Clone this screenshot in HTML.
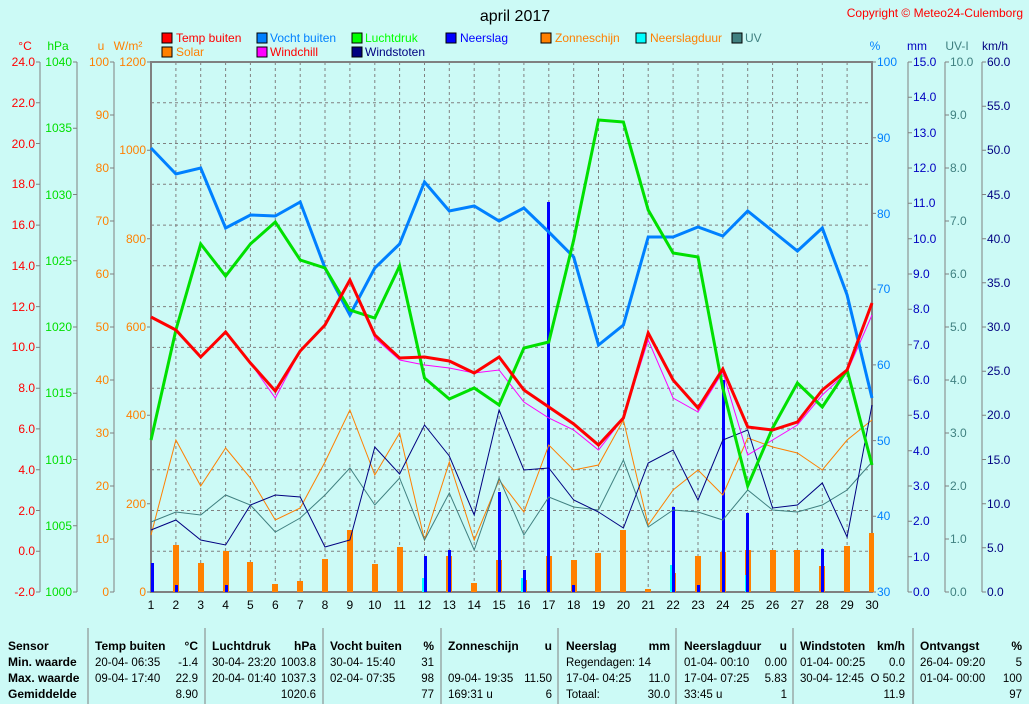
<!DOCTYPE html>
<html><head><meta charset="utf-8"><style>
body{margin:0;background:#ccfaf6;}
svg{display:block;font-family:"Liberation Sans",sans-serif;font-size:12px;}
.b{font-weight:bold}
</style></head><body>
<svg width="1029" height="704" viewBox="0 0 1029 704" xmlns="http://www.w3.org/2000/svg">
<rect width="1029" height="704" fill="#ccfaf6"/>
<text x="515" y="21" font-size="16" text-anchor="middle">april 2017</text>
<text x="1023" y="17" fill="#ff0000" text-anchor="end">Copyright © Meteo24-Culemborg</text>
<g font-size="12">
<rect x="162" y="33" width="10" height="10" fill="#ff0000" stroke="#000"/><text x="176" y="42" fill="#ff0000">Temp buiten</text>
<rect x="162" y="47" width="10" height="10" fill="#ff8000" stroke="#000"/><text x="176" y="56" fill="#ff8000">Solar</text>
<rect x="257" y="33" width="10" height="10" fill="#0080ff" stroke="#000"/><text x="270" y="42" fill="#0080ff">Vocht buiten</text>
<rect x="257" y="47" width="10" height="10" fill="#ff00ff" stroke="#000"/><text x="270" y="56" fill="#ff0000">Windchill</text>
<rect x="352" y="33" width="10" height="10" fill="#00ff00" stroke="#000"/><text x="365" y="42" fill="#00ff00">Luchtdruk</text>
<rect x="352" y="47" width="10" height="10" fill="#000080" stroke="#000"/><text x="365" y="56" fill="#000080">Windstoten</text>
<rect x="446" y="33" width="10" height="10" fill="#0000ff" stroke="#000"/><text x="460" y="42" fill="#0000ff">Neerslag</text>
<rect x="541" y="33" width="10" height="10" fill="#ff8000" stroke="#000"/><text x="555" y="42" fill="#ff8000">Zonneschijn</text>
<rect x="636" y="33" width="10" height="10" fill="#00ffff" stroke="#000"/><text x="650" y="42" fill="#ff8000">Neerslagduur</text>
<rect x="732" y="33" width="10" height="10" fill="#408080" stroke="#000"/><text x="745" y="42" fill="#408080">UV</text>
</g>
<text x="25" y="50" fill="#ff0000" text-anchor="middle">°C</text>
<text x="58" y="50" fill="#00e000" text-anchor="middle">hPa</text>
<text x="101" y="50" fill="#ff8000" text-anchor="middle">u</text>
<text x="128" y="50" fill="#ff8000" text-anchor="middle">W/m²</text>
<text x="875" y="50" fill="#0080ff" text-anchor="middle">%</text>
<text x="917" y="50" fill="#0000c0" text-anchor="middle">mm</text>
<text x="957" y="50" fill="#408080" text-anchor="middle">UV-I</text>
<text x="995" y="50" fill="#000080" text-anchor="middle">km/h</text>
<g stroke="#808080" stroke-dasharray="3,3" stroke-width="1">
<line x1="151" x2="872" y1="102.8" y2="102.8"/><line x1="151" x2="872" y1="143.5" y2="143.5"/><line x1="151" x2="872" y1="184.3" y2="184.3"/><line x1="151" x2="872" y1="225.1" y2="225.1"/><line x1="151" x2="872" y1="265.8" y2="265.8"/><line x1="151" x2="872" y1="306.6" y2="306.6"/><line x1="151" x2="872" y1="347.4" y2="347.4"/><line x1="151" x2="872" y1="388.2" y2="388.2"/><line x1="151" x2="872" y1="428.9" y2="428.9"/><line x1="151" x2="872" y1="469.7" y2="469.7"/><line x1="151" x2="872" y1="510.5" y2="510.5"/><line x1="151" x2="872" y1="551.2" y2="551.2"/>
<line y1="62" y2="592" x1="175.9" x2="175.9"/><line y1="62" y2="592" x1="200.7" x2="200.7"/><line y1="62" y2="592" x1="225.6" x2="225.6"/><line y1="62" y2="592" x1="250.4" x2="250.4"/><line y1="62" y2="592" x1="275.3" x2="275.3"/><line y1="62" y2="592" x1="300.2" x2="300.2"/><line y1="62" y2="592" x1="325" x2="325"/><line y1="62" y2="592" x1="349.9" x2="349.9"/><line y1="62" y2="592" x1="374.8" x2="374.8"/><line y1="62" y2="592" x1="399.6" x2="399.6"/><line y1="62" y2="592" x1="424.5" x2="424.5"/><line y1="62" y2="592" x1="449.3" x2="449.3"/><line y1="62" y2="592" x1="474.2" x2="474.2"/><line y1="62" y2="592" x1="499.1" x2="499.1"/><line y1="62" y2="592" x1="523.9" x2="523.9"/><line y1="62" y2="592" x1="548.8" x2="548.8"/><line y1="62" y2="592" x1="573.7" x2="573.7"/><line y1="62" y2="592" x1="598.5" x2="598.5"/><line y1="62" y2="592" x1="623.4" x2="623.4"/><line y1="62" y2="592" x1="648.2" x2="648.2"/><line y1="62" y2="592" x1="673.1" x2="673.1"/><line y1="62" y2="592" x1="698" x2="698"/><line y1="62" y2="592" x1="722.8" x2="722.8"/><line y1="62" y2="592" x1="747.7" x2="747.7"/><line y1="62" y2="592" x1="772.6" x2="772.6"/><line y1="62" y2="592" x1="797.4" x2="797.4"/><line y1="62" y2="592" x1="822.3" x2="822.3"/><line y1="62" y2="592" x1="847.1" x2="847.1"/>
</g>
<rect x="151" y="62" width="721" height="530" fill="none" stroke="#808080" stroke-width="2"/>
<g stroke="#808080" stroke-width="1">
<line x1="40" y1="62" x2="40" y2="592"/><line x1="77" y1="62" x2="77" y2="592"/><line x1="114" y1="62" x2="114" y2="592"/>
<line x1="908" y1="62" x2="908" y2="592"/><line x1="945" y1="62" x2="945" y2="592"/><line x1="982" y1="62" x2="982" y2="592"/>
</g>
<g stroke="#808080">
<path d="M36 62H40M36 102.8H40M36 143.5H40M36 184.3H40M36 225.1H40M36 265.8H40M36 306.6H40M36 347.4H40M36 388.2H40M36 428.9H40M36 469.7H40M36 510.5H40M36 551.2H40M36 592H40"/>
<path d="M73 62H77M73 128.3H77M73 194.5H77M73 260.8H77M73 327H77M73 393.3H77M73 459.5H77M73 525.8H77M73 592H77"/>
<path d="M110 62H114M110 115H114M110 168H114M110 221H114M110 274H114M110 327H114M110 380H114M110 433H114M110 486H114M110 539H114M110 592H114"/>
<path d="M147 62H151M147 150.3H151M147 238.7H151M147 327H151M147 415.3H151M147 503.7H151M147 592H151"/>
<path d="M872 62H876M872 137.7H876M872 213.4H876M872 289.1H876M872 364.9H876M872 440.6H876M872 516.3H876M872 592H876"/>
<path d="M908 62H912M908 97.3H912M908 132.7H912M908 168H912M908 203.3H912M908 238.7H912M908 274H912M908 309.3H912M908 344.7H912M908 380H912M908 415.3H912M908 450.7H912M908 486H912M908 521.3H912M908 556.7H912M908 592H912"/>
<path d="M945 62H949M945 115H949M945 168H949M945 221H949M945 274H949M945 327H949M945 380H949M945 433H949M945 486H949M945 539H949M945 592H949"/>
<path d="M982 62H986M982 106.2H986M982 150.3H986M982 194.5H986M982 238.7H986M982 282.8H986M982 327H986M982 371.2H986M982 415.3H986M982 459.5H986M982 503.7H986M982 547.8H986M982 592H986"/>
</g>
<g fill="#ff0000" text-anchor="end">
<text x="35" y="66">24.0</text><text x="35" y="107">22.0</text><text x="35" y="148">20.0</text><text x="35" y="188">18.0</text><text x="35" y="229">16.0</text><text x="35" y="270">14.0</text><text x="35" y="311">12.0</text><text x="35" y="351">10.0</text><text x="35" y="392">8.0</text><text x="35" y="433">6.0</text><text x="35" y="474">4.0</text><text x="35" y="515">2.0</text><text x="35" y="555">0.0</text><text x="35" y="596">-2.0</text>
</g>
<g fill="#00e000" text-anchor="end">
<text x="72" y="66">1040</text><text x="72" y="132">1035</text><text x="72" y="199">1030</text><text x="72" y="265">1025</text><text x="72" y="331">1020</text><text x="72" y="397">1015</text><text x="72" y="464">1010</text><text x="72" y="530">1005</text><text x="72" y="596">1000</text>
</g>
<g fill="#ff8000" text-anchor="end">
<text x="109" y="66">100</text><text x="109" y="119">90</text><text x="109" y="172">80</text><text x="109" y="225">70</text><text x="109" y="278">60</text><text x="109" y="331">50</text><text x="109" y="384">40</text><text x="109" y="437">30</text><text x="109" y="490">20</text><text x="109" y="543">10</text><text x="109" y="596">0</text>
<text x="146" y="66">1200</text><text x="146" y="154">1000</text><text x="146" y="243">800</text><text x="146" y="331">600</text><text x="146" y="419">400</text><text x="146" y="508">200</text><text x="146" y="596">0</text>
</g>
<g fill="#0080ff">
<text x="877" y="66">100</text><text x="877" y="142">90</text><text x="877" y="218">80</text><text x="877" y="293">70</text><text x="877" y="369">60</text><text x="877" y="445">50</text><text x="877" y="520">40</text><text x="877" y="596">30</text>
</g>
<g fill="#0000c0">
<text x="913" y="66">15.0</text><text x="913" y="101">14.0</text><text x="913" y="137">13.0</text><text x="913" y="172">12.0</text><text x="913" y="207">11.0</text><text x="913" y="243">10.0</text><text x="913" y="278">9.0</text><text x="913" y="313">8.0</text><text x="913" y="349">7.0</text><text x="913" y="384">6.0</text><text x="913" y="419">5.0</text><text x="913" y="455">4.0</text><text x="913" y="490">3.0</text><text x="913" y="525">2.0</text><text x="913" y="561">1.0</text><text x="913" y="596">0.0</text>
</g>
<g fill="#408080">
<text x="950" y="66">10.0</text><text x="950" y="119">9.0</text><text x="950" y="172">8.0</text><text x="950" y="225">7.0</text><text x="950" y="278">6.0</text><text x="950" y="331">5.0</text><text x="950" y="384">4.0</text><text x="950" y="437">3.0</text><text x="950" y="490">2.0</text><text x="950" y="543">1.0</text><text x="950" y="596">0.0</text>
</g>
<g fill="#000080">
<text x="987" y="66">60.0</text><text x="987" y="110">55.0</text><text x="987" y="154">50.0</text><text x="987" y="199">45.0</text><text x="987" y="243">40.0</text><text x="987" y="287">35.0</text><text x="987" y="331">30.0</text><text x="987" y="375">25.0</text><text x="987" y="419">20.0</text><text x="987" y="464">15.0</text><text x="987" y="508">10.0</text><text x="987" y="552">5.0</text><text x="987" y="596">0.0</text>
</g>
<g text-anchor="middle" fill="#000">
<text x="151" y="609">1</text><text x="175.9" y="609">2</text><text x="200.7" y="609">3</text><text x="225.6" y="609">4</text><text x="250.4" y="609">5</text><text x="275.3" y="609">6</text><text x="300.2" y="609">7</text><text x="325" y="609">8</text><text x="349.9" y="609">9</text><text x="374.8" y="609">10</text><text x="399.6" y="609">11</text><text x="424.5" y="609">12</text><text x="449.3" y="609">13</text><text x="474.2" y="609">14</text><text x="499.1" y="609">15</text><text x="523.9" y="609">16</text><text x="548.8" y="609">17</text><text x="573.7" y="609">18</text><text x="598.5" y="609">19</text><text x="623.4" y="609">20</text><text x="648.2" y="609">21</text><text x="673.1" y="609">22</text><text x="698" y="609">23</text><text x="722.8" y="609">24</text><text x="747.7" y="609">25</text><text x="772.6" y="609">26</text><text x="797.4" y="609">27</text><text x="822.3" y="609">28</text><text x="847.1" y="609">29</text><text x="872" y="609">30</text>
</g>
<g fill="#ff8000">
<rect x="173" y="545" width="6" height="47"/><rect x="198" y="563" width="6" height="29"/><rect x="223" y="551" width="6" height="41"/><rect x="247" y="562" width="6" height="30"/><rect x="272" y="584" width="6" height="8"/><rect x="297" y="581" width="6" height="11"/><rect x="322" y="559" width="6" height="33"/><rect x="347" y="530" width="6" height="62"/><rect x="372" y="564" width="6" height="28"/><rect x="397" y="547" width="6" height="45"/><rect x="446" y="556" width="6" height="36"/><rect x="471" y="583" width="6" height="9"/><rect x="496" y="560" width="6" height="32"/><rect x="521" y="580" width="6" height="12"/><rect x="546" y="556" width="6" height="36"/><rect x="571" y="560" width="6" height="32"/><rect x="595" y="553" width="6" height="39"/><rect x="620" y="530" width="6" height="62"/><rect x="645" y="589" width="6" height="3"/><rect x="670" y="573" width="6" height="19"/><rect x="695" y="556" width="6" height="36"/><rect x="720" y="552" width="6" height="40"/><rect x="745" y="550" width="6" height="42"/><rect x="770" y="550" width="6" height="42"/><rect x="794" y="550" width="6" height="42"/><rect x="819" y="566" width="6" height="26"/><rect x="844" y="546" width="6" height="46"/><rect x="869" y="533" width="5" height="59"/>
</g>
<g fill="#00ffff">
<rect x="422" y="578" width="4" height="14"/><rect x="521" y="578" width="4" height="14"/><rect x="670" y="565" width="4" height="27"/><rect x="745" y="575" width="4" height="17"/>
</g>
<g fill="#0000ff">
<rect x="151" y="563" width="3" height="29"/><rect x="175" y="585" width="3" height="7"/><rect x="225" y="585" width="3" height="7"/><rect x="424" y="556" width="3" height="36"/><rect x="448" y="550" width="3" height="42"/><rect x="498" y="492" width="3" height="100"/><rect x="523" y="570" width="3" height="22"/><rect x="547" y="202" width="3" height="390"/><rect x="572" y="585" width="3" height="7"/><rect x="672" y="507" width="3" height="85"/><rect x="697" y="585" width="3" height="7"/><rect x="722" y="380" width="3" height="212"/><rect x="746" y="513" width="3" height="79"/><rect x="821" y="549" width="3" height="43"/>
</g>
<polyline fill="none" stroke="#ff8000" stroke-width="1" points="151,535 175.9,440 200.7,486 225.6,448 250.4,478 275.3,520 300.2,508 325,462 349.9,410 374.8,475 399.6,433 424.5,540 449.3,462 474.2,540 499.1,480 523.9,512 548.8,445 573.7,470 598.5,465 623.4,420 648.2,525 673.1,490 698,470 722.8,495 747.7,438 772.6,447 797.4,453 822.3,470 847.1,440 872,420"/>
<polyline fill="none" stroke="#408080" stroke-width="1" points="151,522 175.9,512 200.7,515 225.6,495 250.4,505 275.3,532 300.2,518 325,495 349.9,468 374.8,505 399.6,478 424.5,540 449.3,493 474.2,550 499.1,478 523.9,535 548.8,497 573.7,507 598.5,510 623.4,460 648.2,527 673.1,510 698,512 722.8,520 747.7,490 772.6,510 797.4,512 822.3,505 847.1,490 872,462"/>
<polyline fill="none" stroke="#000080" stroke-width="1" points="151,530 175.9,520 200.7,540 225.6,545 250.4,505 275.3,495 300.2,497 325,547 349.9,540 374.8,447 399.6,474 424.5,425 449.3,456 474.2,515 499.1,410 523.9,470 548.8,468 573.7,500 598.5,512 623.4,528 648.2,463 673.1,450 698,500 722.8,440 747.7,430 772.6,508 797.4,505 822.3,483 847.1,537 872,405"/>
<polyline fill="none" stroke="#ff00ff" stroke-width="1" points="151,317 175.9,330 200.7,357 225.6,332 250.4,363 275.3,398 300.2,351 325,325 349.9,280 374.8,338 399.6,360 424.5,365 449.3,368 474.2,373 499.1,370 523.9,402 548.8,418 573.7,430 598.5,450 623.4,418 648.2,340 673.1,398 698,412 722.8,372 747.7,455 772.6,440 797.4,425 822.3,395 847.1,372 872,315"/>
<polyline fill="none" stroke="#0080ff" stroke-width="3" points="151,148 175.9,174 200.7,168 225.6,228 250.4,215 275.3,216 300.2,202 325,268 349.9,315 374.8,268 399.6,244 424.5,182 449.3,211 474.2,206 499.1,221 523.9,208 548.8,232 573.7,257 598.5,345 623.4,325 648.2,237 673.1,237 698,227 722.8,236 747.7,211 772.6,231 797.4,251 822.3,228 847.1,295 872,398"/>
<polyline fill="none" stroke="#00e000" stroke-width="3" points="151,440 175.9,330 200.7,244 225.6,276 250.4,244 275.3,222 300.2,260 325,268 349.9,310 374.8,318 399.6,266 424.5,378 449.3,399 474.2,388 499.1,405 523.9,348 548.8,342 573.7,240 598.5,120 623.4,122 648.2,210 673.1,253 698,257 722.8,388 747.7,486 772.6,428 797.4,383 822.3,407 847.1,370 872,465"/>
<polyline fill="none" stroke="#ff0000" stroke-width="3" points="151,317 175.9,330 200.7,357 225.6,332 250.4,363 275.3,391 300.2,351 325,325 349.9,280 374.8,335 399.6,358 424.5,357 449.3,361 474.2,373 499.1,357 523.9,390 548.8,407 573.7,424 598.5,445 623.4,418 648.2,333 673.1,380 698,408 722.8,369 747.7,427 772.6,430 797.4,422 822.3,390 847.1,370 872,303"/>
<g stroke="#808080" stroke-width="1">
<line x1="88" y1="628" x2="88" y2="704"/><line x1="205" y1="628" x2="205" y2="704"/><line x1="323" y1="628" x2="323" y2="704"/><line x1="441" y1="628" x2="441" y2="704"/><line x1="558" y1="628" x2="558" y2="704"/><line x1="676" y1="628" x2="676" y2="704"/><line x1="793" y1="628" x2="793" y2="704"/><line x1="913" y1="628" x2="913" y2="704"/>
</g>
<g font-size="12" fill="#000">
<g class="b"><text x="8" y="650">Sensor</text><text x="8" y="666">Min. waarde</text><text x="8" y="682">Max. waarde</text><text x="8" y="698">Gemiddelde</text>
<text x="95" y="650">Temp buiten</text><text x="198" y="650" text-anchor="end">°C</text>
<text x="212" y="650">Luchtdruk</text><text x="316" y="650" text-anchor="end">hPa</text>
<text x="330" y="650">Vocht buiten</text><text x="434" y="650" text-anchor="end">%</text>
<text x="448" y="650">Zonneschijn</text><text x="552" y="650" text-anchor="end">u</text>
<text x="566" y="650">Neerslag</text><text x="670" y="650" text-anchor="end">mm</text>
<text x="684" y="650">Neerslagduur</text><text x="787" y="650" text-anchor="end">u</text>
<text x="800" y="650">Windstoten</text><text x="905" y="650" text-anchor="end">km/h</text>
<text x="920" y="650">Ontvangst</text><text x="1022" y="650" text-anchor="end">%</text></g>
<g font-size="11.5">
<text x="95" y="666">20-04- 06:35</text><text x="198" y="666" text-anchor="end">-1.4</text>
<text x="95" y="682">09-04- 17:40</text><text x="198" y="682" text-anchor="end">22.9</text>
<text x="198" y="698" text-anchor="end">8.90</text>
<text x="212" y="666" textLength="64">30-04- 23:20</text><text x="316" y="666" text-anchor="end">1003.8</text>
<text x="212" y="682" textLength="64">20-04- 01:40</text><text x="316" y="682" text-anchor="end">1037.3</text>
<text x="316" y="698" text-anchor="end">1020.6</text>
<text x="330" y="666">30-04- 15:40</text><text x="434" y="666" text-anchor="end">31</text>
<text x="330" y="682">02-04- 07:35</text><text x="434" y="682" text-anchor="end">98</text>
<text x="434" y="698" text-anchor="end">77</text>
<text x="448" y="682">09-04- 19:35</text><text x="552" y="682" text-anchor="end">11.50</text>
<text x="448" y="698">169:31 u</text><text x="552" y="698" text-anchor="end">6</text>
<text x="566" y="666">Regendagen: 14</text>
<text x="566" y="682">17-04- 04:25</text><text x="670" y="682" text-anchor="end">11.0</text>
<text x="566" y="698">Totaal:</text><text x="670" y="698" text-anchor="end">30.0</text>
<text x="684" y="666">01-04- 00:10</text><text x="787" y="666" text-anchor="end">0.00</text>
<text x="684" y="682">17-04- 07:25</text><text x="787" y="682" text-anchor="end">5.83</text>
<text x="684" y="698">33:45 u</text><text x="787" y="698" text-anchor="end">1</text>
<text x="800" y="666">01-04- 00:25</text><text x="905" y="666" text-anchor="end">0.0</text>
<text x="800" y="682" textLength="64">30-04- 12:45</text><text x="905" y="682" text-anchor="end">O 50.2</text>
<text x="905" y="698" text-anchor="end">11.9</text>
<text x="920" y="666">26-04- 09:20</text><text x="1022" y="666" text-anchor="end">5</text>
<text x="920" y="682">01-04- 00:00</text><text x="1022" y="682" text-anchor="end">100</text>
<text x="1022" y="698" text-anchor="end">97</text>
</g>
</g>
</svg>
</body></html>
